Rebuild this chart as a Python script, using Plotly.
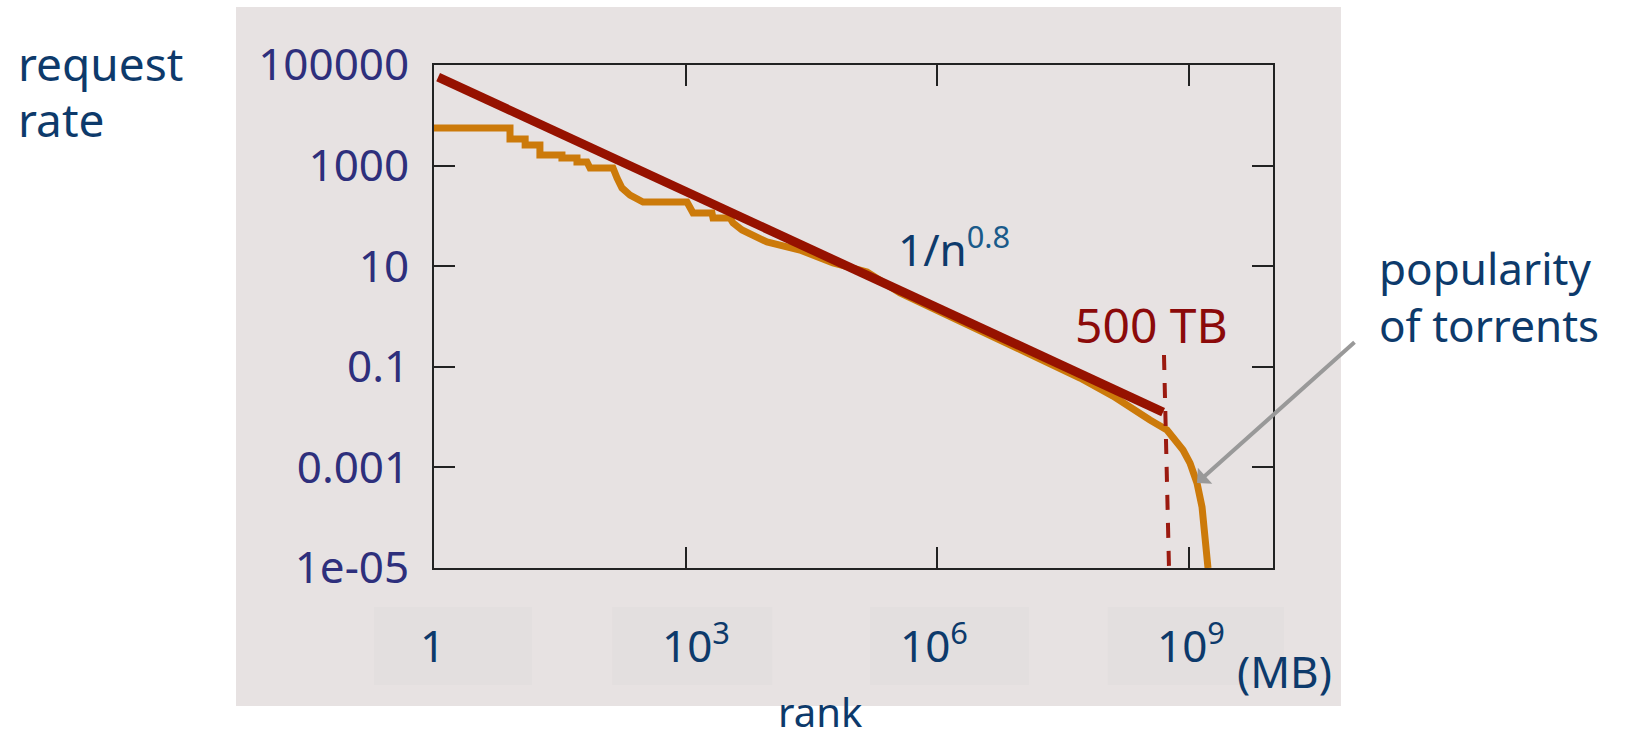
import plotly.graph_objects as go
import math

# ---------------- data ----------------
rank_x = [1.0, 8.05, 8.05, 12.2, 12.2, 18.3, 18.3, 33.5, 33.5, 50.6, 50.6, 66.6, 72.3,
          136, 152, 174, 217, 285, 310, 1036, 1222, 2057, 2115, 3373, 3664, 4690, 9310,
          2.3e4, 5.7e4, 1.45e5, 3.58e5, 5.12e5, 3.22e6, 2.02e7, 5.01e7, 1.24e8, 2.14e8,
          3.42e8, 5.45e8, 8.46e8, 1.026e9, 1.242e9, 1.426e9, 1.59e9, 1.68e9]
rate_y = [5600, 5600, 3380, 3380, 2570, 2570, 1625, 1625, 1416, 1416, 1180, 1180, 896,
          896, 567, 359, 260, 207, 189, 189, 114, 114, 90.8, 90.8, 72.3, 52.5, 30.3,
          21.0, 11.6, 7.67, 2.93, 2.23, 0.539, 0.1245, 0.0598, 0.0262, 0.01384,
          0.00875, 0.00554, 0.00222, 0.00122, 0.00049, 1.63e-4, 3.6e-5, 1.0e-5]

fit_x = [1.12, 4.9e8]
fit_y = [57600, 0.0126]

cutoff_x = [5.02e8, 5.76e8]
cutoff_y = [0.172, 1e-5]

x_tickvals = [1, 1e3, 1e6, 1e9]
x_ticklabels = ["1", "10<sup>3</sup>", "10<sup>6</sup>", "10<sup>9</sup>"]
y_tickvals = [1e5, 1e3, 10, 0.1, 1e-3, 1e-5]
y_ticklabels = ["100000", "1000", "10", "0.1", "0.001", "1e-05"]

arrow_tip = (1.242e9, 0.00049)

# ---------------- styling ----------------
FONT = "Noto Sans"
NAVY = "#0d3a6b"
TICKNAVY = "#2e2f7c"
RED = "#961200"
DRED = "#8b0a0a"
ORANGE = "#cc7a0a"
BG = "#e7e2e2"
BOX = "#e3dfdf"

fig = go.Figure()
fig.add_trace(go.Scatter(x=rank_x, y=rate_y, mode="lines",
                         line=dict(color=ORANGE, width=7), showlegend=False))
fig.add_trace(go.Scatter(x=fit_x, y=fit_y, mode="lines",
                         line=dict(color=RED, width=9), showlegend=False))
fig.add_trace(go.Scatter(x=cutoff_x, y=cutoff_y, mode="lines",
                         line=dict(color="#9b1a10", width=4, dash="15px,13px"),
                         showlegend=False))

axis_common = dict(type="log", showgrid=False, zeroline=False, showline=True,
                   linecolor="#222", linewidth=2, mirror="ticks", ticks="inside",
                   ticklen=21, tickwidth=1.5, tickcolor="#222")

fig.update_xaxes(range=[0, 10], tickvals=x_tickvals, showticklabels=False, **axis_common)
fig.update_yaxes(range=[-5, 5], tickvals=y_tickvals, ticktext=y_ticklabels,
                 tickfont=dict(family=FONT, size=44, color=TICKNAVY),
                 ticklabelstandoff=14, **axis_common)

shapes = [dict(type="rect", xref="paper", yref="paper", x0=-0.236, x1=1.081,
               y0=-0.2744, y1=1.1153, fillcolor=BG, line=dict(width=0), layer="below")]
box_x = [(-0.0715, 0.1168), (0.2122, 0.4029), (0.5197, 0.7092), (0.8033, 1.0131)]
for x0, x1 in box_x:
    shapes.append(dict(type="rect", xref="paper", yref="paper", x0=x0, x1=x1,
                       y0=-0.2326, y1=-0.0775, fillcolor=BOX, line=dict(width=0),
                       layer="below"))

ann = []
label_cx = [-0.0012, 0.3123, 0.5959, 0.9023]
for cx, t in zip(label_cx, x_ticklabels):
    ann.append(dict(text=t, x=cx, y=-0.2167, xref="paper", yref="paper",
                    xanchor="center", yanchor="bottom", showarrow=False,
                    font=dict(family=FONT, size=44, color=NAVY)))

ann += [
    dict(text="request", x=-0.4982, y=1.004, xanchor="left", yanchor="middle",
         font=dict(family=FONT, size=46, color=NAVY)),
    dict(text="rate", x=-0.4982, y=0.8926, xanchor="left", yanchor="middle",
         font=dict(family=FONT, size=46, color=NAVY)),
    dict(text="rank", x=0.46, y=-0.2265, xanchor="center", yanchor="top",
         font=dict(family=FONT, size=40, color=NAVY)),
    dict(text="(MB)", x=1.0143, y=-0.2684, xanchor="center", yanchor="bottom",
         font=dict(family=FONT, size=44, color=NAVY)),
    dict(text="popularity<br>of torrents", x=1.124, y=0.5388, xanchor="left",
         yanchor="middle", align="left",
         font=dict(family=FONT, size=44, color=NAVY)),
    dict(text="1/n<sup><span style='color:#1a5a8a'>0.8</span></sup>", x=0.5507, y=0.5706,
         xanchor="left", yanchor="bottom", font=dict(family=FONT, size=44, color=NAVY)),
    dict(text="500 TB", x=0.7616, y=0.4155, xanchor="left", yanchor="bottom",
         font=dict(family=FONT, size=48, color=DRED)),
]
for a in ann:
    a.setdefault("xref", "paper")
    a.setdefault("yref", "paper")
    a.setdefault("showarrow", False)

ann.append(dict(text="", x=math.log10(arrow_tip[0]), y=math.log10(arrow_tip[1]),
                xref="x", yref="y", showarrow=True, ax=159, ay=-142,
                arrowcolor="#999999", arrowwidth=4, arrowhead=1, arrowsize=0.9,
                standoff=0))

fig.update_layout(width=1647, height=740, margin=dict(l=434, r=374, t=65, b=172),
                  paper_bgcolor="white", plot_bgcolor="rgba(0,0,0,0)",
                  shapes=shapes, annotations=ann, showlegend=False)

fig.write_html("out.html", config={"displayModeBar": False},
               post_script="document.body.style.margin='0';document.body.style.overflow='hidden';")
